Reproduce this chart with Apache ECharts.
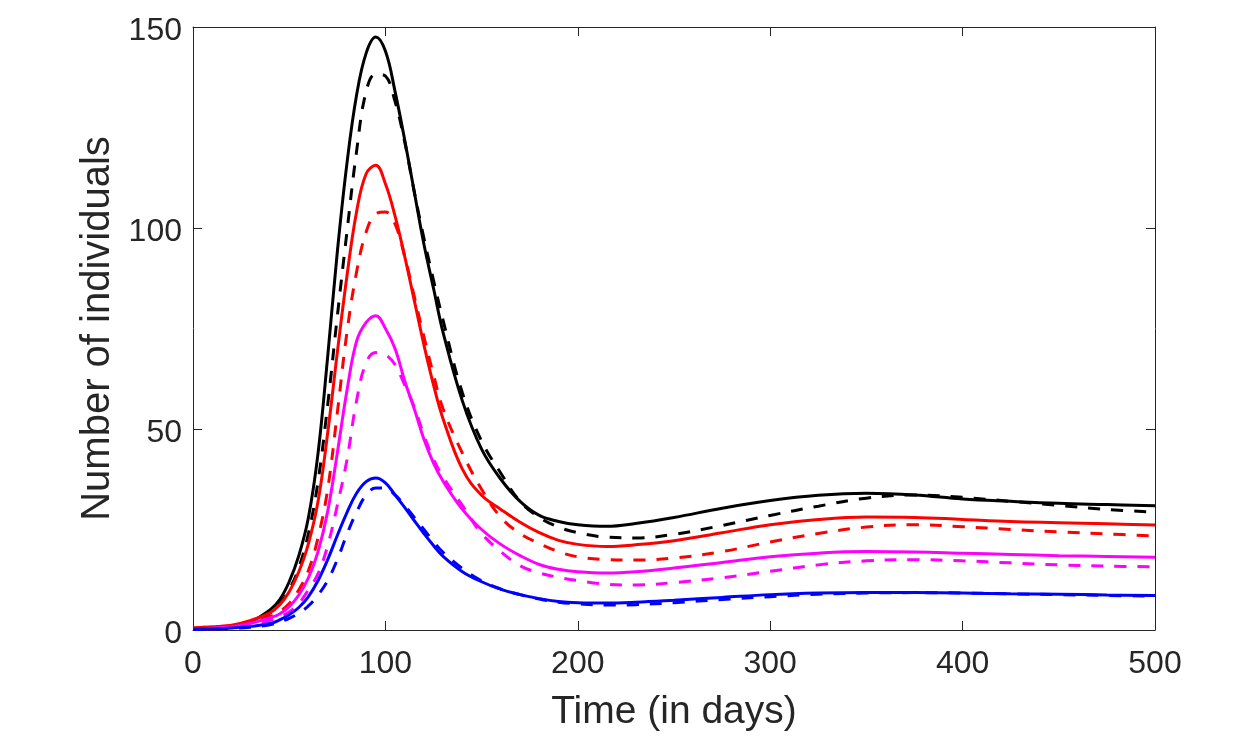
<!DOCTYPE html>
<html>
<head>
<meta charset="utf-8">
<script src="https://cdn.jsdelivr.net/npm/echarts@6/dist/echarts.min.js"></script>
<style>
  html, body { margin: 0; padding: 0; background: #fff; }
  #chart_container { width: 1244px; height: 742px; }
</style>
</head>
<body>
<div id="chart_container"></div>
<script>
// sample times (days)
const time = [0, 10, 20, 30, 40, 45, 50, 55, 60, 65, 70, 75, 80, 85, 90, 95, 100, 105, 110, 115, 120, 125,
              130, 140, 150, 160, 170, 180, 190, 200, 215, 230, 250, 275, 300, 325, 350, 375, 400, 425, 450, 475, 500];

const blackSolid = [0.3, 0.5, 1.0, 2.1, 5.0, 7.5, 12, 18.5, 28, 44, 68, 94, 116, 133, 143.5, 147.5, 144, 134, 122, 109, 96, 85,
                    74, 57, 45, 37.5, 32, 28.5, 27, 26.2, 25.8, 26.5, 28, 30.3, 32.2, 33.5, 34.0, 33.6, 32.6, 32.0, 31.5, 31.2, 30.9];
const blackDashed = [0.3, 0.5, 0.9, 1.8, 4.2, 6.5, 10, 15.5, 24, 37, 56, 78, 99, 119, 134, 138.3, 137.8, 131.5, 121.5, 109, 97.5, 87,
                     77, 59, 47, 39, 32, 28, 25.6, 24.2, 23.1, 22.9, 23.8, 26, 28.5, 30.8, 32.8, 33.6, 33.0, 32.0, 31, 30.0, 29.3];
const redSolid = [0.5, 0.8, 1.2, 2.4, 4.3, 6.2, 9.5, 14.5, 21.5, 32, 49, 69, 88, 104, 113.5, 115.6, 111, 103, 93, 82, 71, 61,
                  52.5, 40, 33.5, 30, 26.8, 24.2, 22.3, 21.3, 20.8, 21.2, 22.2, 24.2, 26.2, 27.5, 28.1, 28.0, 27.5, 27.0, 26.7, 26.4, 26.1];
const redDashed = [0.5, 0.8, 1.1, 2.0, 3.4, 4.6, 6.6, 10, 14.8, 23, 35, 54, 74, 89, 99, 103.5, 104, 101, 93, 83, 73, 63.5,
                   55, 44, 35, 28, 24, 21.5, 19.5, 18.2, 17.5, 17.4, 17.9, 19.5, 21.9, 24, 25.6, 26.2, 25.7, 25.0, 24.4, 23.9, 23.4];
const magentaSolid = [0.3, 0.5, 0.8, 1.7, 3.0, 4.0, 5.8, 8.7, 13, 19.5, 29.5, 44, 59.5, 71.8, 76.5, 78.2, 75, 70, 62, 55, 47.5, 41.5,
                      37, 30, 25, 21.3, 18.5, 16.3, 15.1, 14.5, 14.2, 14.5, 15.4, 16.8, 18.2, 19.1, 19.5, 19.4, 19.1, 18.8, 18.5, 18.3, 18.1];
const magentaDashed = [0.3, 0.4, 0.7, 1.3, 2.4, 3.3, 4.5, 6.6, 10, 14, 21, 31, 42.3, 57, 66.5, 69, 68.5, 66, 61, 55.5, 48.5, 42.5,
                       38, 31, 24, 19.5, 16, 14.2, 13.1, 12.3, 11.4, 11.2, 11.8, 13.0, 14.6, 16.2, 17.2, 17.5, 17.2, 16.7, 16.2, 15.9, 15.7];
const blueSolid = [0.2, 0.3, 0.5, 0.9, 1.6, 2.5, 3.8, 5.6, 8.3, 12.3, 17.5, 23.5, 29.2, 34.0, 36.9, 37.8, 36.6, 33.6, 30.5, 27.2, 24, 21,
                   18.3, 14.5, 12, 10.1, 8.8, 7.8, 7.1, 6.8, 6.7, 6.9, 7.4, 8.1, 8.8, 9.2, 9.35, 9.3, 9.2, 9.0, 8.9, 8.7, 8.6];
const blueDashed = [0.2, 0.3, 0.4, 0.7, 1.3, 2.0, 2.9, 4.2, 6.0, 8.7, 12.3, 17.5, 23.8, 29.3, 33.6, 35.3, 35.3, 33.6, 31, 28, 25, 22,
                    19.3, 15.3, 12.2, 10.2, 8.8, 7.7, 6.9, 6.5, 6.2, 6.3, 6.8, 7.6, 8.3, 8.9, 9.2, 9.3, 9.2, 9.0, 8.8, 8.6, 8.4];

const textColor = '#262626';
const fontFamily = '"Liberation Sans", Arial, Helvetica, sans-serif';

function pairs(values) {
    return time.map((t, i) => [t, values[i]]);
}

function curve(name, values, color, dashed) {
    return {
        name: name,
        type: 'line',
        xAxisIndex: 0,
        yAxisIndex: 0,
        data: pairs(values),
        smooth: 0.4,
        showSymbol: false,
        symbol: 'none',
        lineStyle: { color: color, width: 3, type: dashed ? [12, 11] : 'solid' },
        z: 3
    };
}

function boxAxis(pos, isX, show) {
    const label = {
        show: show,
        color: textColor,
        fontFamily: fontFamily,
        fontSize: 32,
        margin: isX ? 18 : 11
    };
    if (!isX) {
        // MATLAB puts y tick labels a little below the tick
        label.formatter = '{v|{value}}';
        label.rich = { v: { fontSize: 32, fontFamily: fontFamily, color: textColor, padding: [8, 0, 0, 0] } };
    }
    return {
        type: 'value',
        position: pos,
        min: 0,
        max: isX ? 500 : 150,
        interval: isX ? 100 : 50,
        splitLine: { show: false },
        axisLine: { show: true, onZero: false, lineStyle: { color: textColor, width: 1 } },
        axisTick: { show: true, inside: true, length: 9, lineStyle: { color: textColor, width: 1 } },
        axisLabel: label
    };
}

document.addEventListener('DOMContentLoaded', function () {
    const chart = echarts.init(document.getElementById('chart_container'), null, { renderer: 'canvas' });

    const xBottom = boxAxis('bottom', true, true);
    xBottom.name = 'Time (in days)';
    xBottom.nameLocation = 'middle';
    xBottom.nameGap = 63;
    xBottom.nameTextStyle = { color: textColor, fontFamily: fontFamily, fontSize: 39 };

    const yLeft = boxAxis('left', false, true);
    yLeft.name = 'Number of individuals';
    yLeft.nameLocation = 'middle';
    yLeft.nameGap = 70;
    yLeft.nameTextStyle = { color: textColor, fontFamily: fontFamily, fontSize: 40 };

    const option = {
        animation: false,
        backgroundColor: '#ffffff',
        grid: { left: 193, right: 89, top: 27, bottom: 112, containLabel: false },
        xAxis: [xBottom, boxAxis('top', true, false)],
        yAxis: [yLeft, boxAxis('right', false, false)],
        series: [
            curve('black', blackSolid, '#000000', false),
            curve('black dashed', blackDashed, '#000000', true),
            curve('red', redSolid, '#ff0000', false),
            curve('red dashed', redDashed, '#ff0000', true),
            curve('magenta', magentaSolid, '#ff00ff', false),
            curve('magenta dashed', magentaDashed, '#ff00ff', true),
            curve('blue', blueSolid, '#0000ff', false),
            curve('blue dashed', blueDashed, '#0000ff', true)
        ]
    };
    chart.setOption(option);
});
</script>
</body>
</html>
